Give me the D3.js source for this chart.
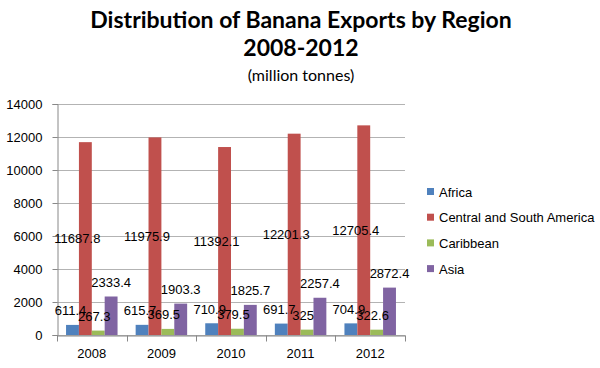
<!DOCTYPE html>
<html><head><meta charset="utf-8">
<script src="https://cdn.jsdelivr.net/npm/d3@7/dist/d3.min.js"></script>
<style>body{margin:0;background:#fff}svg{display:block}text{font-family:"Liberation Sans",Arial,sans-serif}</style>
</head><body><svg id="c" width="600" height="368"></svg>
<script>
const years = ["2008","2009","2010","2011","2012"];
const seriesNames = ["Africa","Central and South America","Caribbean","Asia"];
const africa = [611.4, 615.7, 710.9, 691.7, 704.9];
const centralSouthAmerica = [11687.8, 11975.9, 11392.1, 12201.3, 12705.4];
const caribbean = [267.3, 369.5, 379.5, 325, 322.6];
const asia = [2333.4, 1903.3, 1825.7, 2257.4, 2872.4];
const yTicks = [0,2000,4000,6000,8000,10000,12000,14000];
const colors = ["#4F81BD","#C0504D","#9BBB59","#8064A2"];
const seriesValues = [africa, centralSouthAmerica, caribbean, asia];

(function(){
const svg = d3.select("#c");
const pL = 57, pR = 405, pT = 104, pB = 335;
const x = d3.scaleBand().domain(years).range([pL, pR]).paddingInner(0.26).paddingOuter(0.13);
const x0 = d3.scaleBand().domain(years).range([pL, pR]);
const xs = d3.scaleBand().domain(seriesNames).range([0, x.bandwidth()]);
const y = d3.scaleLinear().domain([0, 14000]).range([pB, pT]);

// gridlines
svg.append("g").selectAll("line").data(yTicks).join("line")
  .attr("x1", pL).attr("x2", pR)
  .attr("y1", d => Math.round(y(d)) + 0.5).attr("y2", d => Math.round(y(d)) + 0.5)
  .attr("stroke", "#b3b3b3").attr("stroke-width", 1);

// y axis
const yAxis = svg.append("g").attr("transform", `translate(${pL + 0.5},0)`)
  .call(d3.axisLeft(y).tickValues(yTicks).tickSize(5).tickPadding(10).tickFormat(d3.format("d")));
yAxis.select(".domain").attr("stroke", "#888");
yAxis.selectAll(".tick line").attr("stroke", "#888");
yAxis.selectAll("text").attr("font-size", 13).attr("fill", "#000");

// x axis
const xAxis = svg.append("g").attr("transform", `translate(0,${Math.round(y(0)) + 0.5})`)
  .call(d3.axisBottom(x0).tickSize(0).tickPadding(13));
xAxis.select(".domain").attr("stroke", "#888");
xAxis.selectAll("text").attr("font-size", 13).attr("fill", "#000");
const bounds = years.map(d => x0(d)).concat([x0(years[years.length-1]) + x0.bandwidth()]);
xAxis.append("g").selectAll("line").data(bounds).join("line")
  .attr("x1", d => Math.round(d) + 0.5).attr("x2", d => Math.round(d) + 0.5)
  .attr("y1", 0).attr("y2", 6).attr("stroke", "#888");

// bars
const flat = [];
seriesNames.forEach((s, i) => years.forEach((yr, j) => flat.push({s, i, yr, v: seriesValues[i][j]})));
svg.append("g").selectAll("rect").data(flat).join("rect")
  .attr("x", d => x(d.yr) + xs(d.s))
  .attr("width", xs.bandwidth())
  .attr("y", d => y(d.v))
  .attr("height", d => y(0) - y(d.v))
  .attr("fill", d => colors[d.i]);

// labels
svg.append("g").selectAll("text").data(flat).join("text")
  .attr("x", d => x(d.yr) + xs(d.s) + xs.bandwidth() / 2 + (d.i === 1 ? -8 : d.i === 2 ? -4 : d.i === 0 ? -2 : 0))
  .attr("y", d => d.i === 1 ? y(d.v / 2) : y(d.v) - 14)
  .attr("dy", "0.35em")
  .attr("text-anchor", "middle").attr("font-size", 13).attr("fill", "#000")
  .text(d => d.v);

// legend
const lg = svg.append("g").selectAll("g").data(seriesNames).join("g")
  .attr("transform", (d, i) => `translate(427,${192 + i * 25.7})`);
lg.append("rect").attr("x", 0).attr("y", -4).attr("width", 7).attr("height", 7).attr("fill", (d, i) => colors[i]);
lg.append("text").attr("x", 12).attr("y", 0).attr("dy", "0.35em").attr("font-size", 13).text(d => d);

// title
svg.append("text").attr("x", 301).attr("y", 20).attr("dy", "0.35em").attr("text-anchor", "middle")
  .attr("font-size", 23).attr("font-weight", "bold").style("font-family", "Lato,sans-serif")
  .text("Distribution of Banana Exports by Region");
svg.append("text").attr("x", 301).attr("y", 48).attr("dy", "0.35em").attr("text-anchor", "middle")
  .attr("font-size", 23).attr("font-weight", "bold").style("font-family", "Lato,sans-serif")
  .text("2008-2012");
svg.append("text").attr("x", 301).attr("y", 75).attr("dy", "0.35em").attr("text-anchor", "middle")
  .attr("font-size", 16).style("font-family", "Lato,sans-serif").text("(million tonnes)");
})();
</script></body></html>
